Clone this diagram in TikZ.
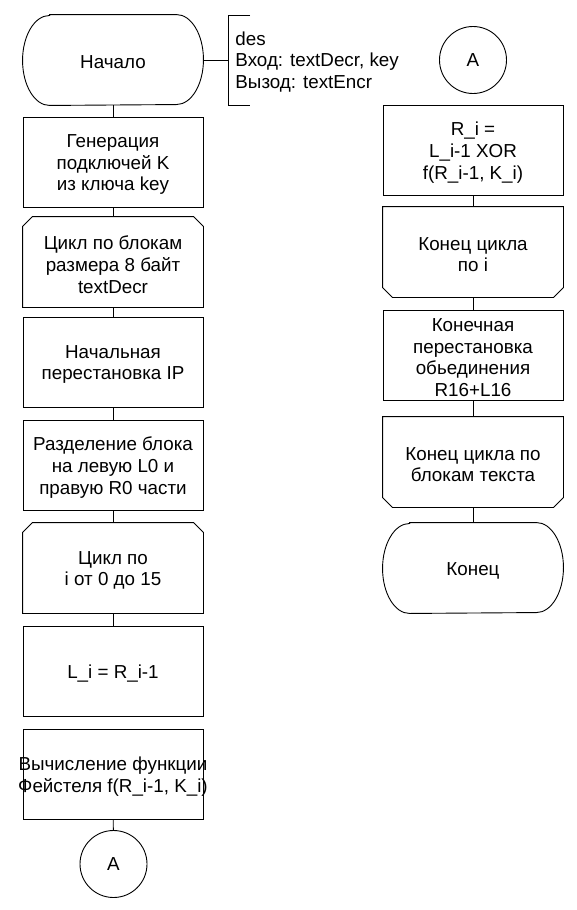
\documentclass[tikz,border=0pt]{standalone}
\usepackage{fontspec}
\setmainfont{Liberation Sans}
\begin{document}
\begin{tikzpicture}[x=1pt,y=-1pt,line width=0.9pt,
  every node/.style={font=\fontsize{18.8}{21.7}\selectfont,align=center,inner sep=0pt},
  proc/.style={draw,minimum width=180pt,minimum height=90pt},
  shell/.style={minimum width=180pt,minimum height=90pt},
  txt/.style={yshift=-2.5pt},
  conn/.style={draw,circle,minimum size=67pt},
  link/.style={draw}]
\useasboundingbox (0,0) rectangle (576,910);
% left column shapes
\node[shell] (start) at (113,60) {};
\node[proc] (b1) at (113,162) {};
\node[shell] (b2) at (113,262) {};
\node[proc] (b3) at (113,362) {};
\node[proc] (b4) at (113,465) {};
\node[shell] (b5) at (113,568) {};
\node[proc] (b6) at (113,671) {};
\node[proc] (b7) at (113,774) {};
\node[conn] (ca) at (113.5,864) {A};
% right column shapes
\node[conn] (cb) at (473,60) {A};
\node[proc] (r1) at (473,150) {};
\node[shell] (r2) at (473,252) {};
\node[proc] (r3) at (473,355) {};
\node[shell] (r4) at (473,462) {};
\node[shell] (fin) at (473,568) {};
% texts
\node[txt] (tstart) at (start) {Начало};
\node[txt] (t1) at (b1) {Генерация\\подключей K\\из ключа key};
\node[txt] (t2) at (b2) {Цикл по блокам\\размера 8 байт\\textDecr};
\node[txt] (t3) at (b3) {Начальная\\перестановка IP};
\node[txt] (t4) at (b4) {Разделение блока\\на левую L0 и\\правую R0 части};
\node[txt] (t5) at (b5) {Цикл по\\i от 0 до 15};
\node[txt] (t6) at (b6) {L\_i = R\_i-1};
\node[txt] (t7) at (b7) {Вычисление функции\\Фейстеля f(R\_i-1, K\_i)};
\node[txt] (tr1) at (r1) {R\_i =\\L\_i-1 XOR\\f(R\_i-1, K\_i)};
\node[txt] (tr2) at (r2) {Конец цикла\\по i};
\node[txt] (tr3) at (r3) {Конечная\\перестановка\\обьединения\\R16+L16};
\node[txt] (tr4) at (r4) {Конец цикла по\\блокам текста};
\node[txt] (tfin) at (fin) {Конец};
% comment
\node[anchor=west,align=left] (cmt) at (235,62) {des\\Вход: textDecr, key\\Вызод: textEncr};
\coordinate (brt) at (250,15);
\coordinate (brl) at (228,15);
\coordinate (brm) at (228,60);
\coordinate (brb) at (228,105);
\coordinate (brr) at (250,105);
% terminals
\foreach \t in {start,fin}{
  \draw ([xshift=27pt]\t.north west) -- ([xshift=-27pt]\t.north east)
    arc[start angle=90,end angle=-90,x radius=27pt,y radius=45pt]
    -- ([xshift=27pt]\t.south west)
    arc[start angle=270,end angle=90,x radius=27pt,y radius=45pt] -- cycle;
}
% loop starts
\foreach \t in {b2,b5}{
  \draw (\t.south west) -- ([yshift=-10pt]\t.north west) -- ([xshift=10pt]\t.north west)
    -- ([xshift=-10pt]\t.north east) -- ([yshift=-10pt]\t.north east) -- (\t.south east) -- cycle;
}
% loop ends
\foreach \t in {r2,r4}{
  \draw (\t.north west) -- ([yshift=10pt]\t.south west) -- ([xshift=10pt]\t.south west)
    -- ([xshift=-10pt]\t.south east) -- ([yshift=10pt]\t.south east) -- (\t.north east) -- cycle;
}
% comment bracket
\draw (brt) -- (brl) -- (brb) -- (brr);
\draw[link] (start.east) -- (brm);
% connectors
\draw[link] (start) -- (b1);
\draw[link] (b1) -- (b2);
\draw[link] (b2) -- (b3);
\draw[link] (b3) -- (b4);
\draw[link] (b4) -- (b5);
\draw[link] (b5) -- (b6);
\draw[link] (b7) -- (ca);
\draw[link] (r1) -- (r2);
\draw[link] (r2) -- (r3);
\draw[link] (r3) -- (r4);
\draw[link] (r4) -- (fin);
\end{tikzpicture}
\end{document}
